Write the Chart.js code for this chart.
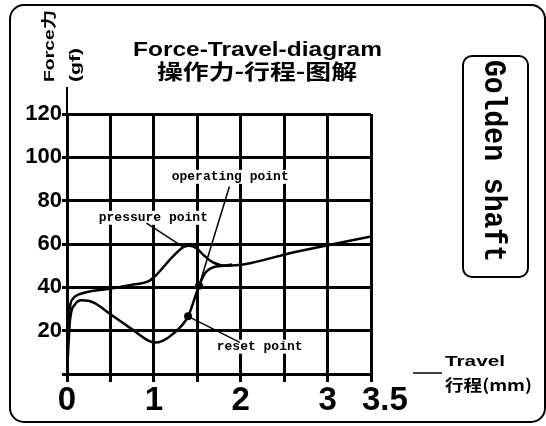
<!DOCTYPE html>
<html>
<head>
<meta charset="utf-8">
<script src="https://cdn.jsdelivr.net/npm/chart.js"></script>
<style>
  body { margin: 0; background: #fff; }
  canvas { display: block; }
</style>
</head>
<body>
<canvas id="myChart" width="546" height="426"></canvas>
<script>
// press stroke (upper curve), travel in mm / force in gf
const pressTravel = [0, 0.008, 0.035, 0.073, 0.13, 0.5, 0.75, 0.935, 1.01, 1.22, 1.34, 1.41, 1.49, 1.57, 1.68, 1.84, 2.68, 3.5];
const pressForce  = [0, 17, 31, 35, 36.6, 39.4, 41.2, 42.7, 45, 54.3, 58.6, 59.2, 58.1, 55, 51.5, 50, 56.8, 63.5];

// release stroke (lower curve)
const releaseTravel = [0, 0.035, 0.09, 0.17, 0.245, 0.32, 0.5, 0.75, 0.93, 1.01, 1.1, 1.22, 1.394, 1.52, 1.59, 1.66, 1.80, 1.9];
const releaseForce  = [0, 25, 32, 34, 33.8, 32.7, 27.6, 20.6, 15.5, 14.5, 15.3, 18.5, 26.6, 40.7, 46.6, 48.9, 50, 50.5];

// marked points: operating point, reset point
const dotTravel = [1.52, 1.394];
const dotForce  = [40.7, 26.6];

// call-outs
const noteLabels = ['pressure point', 'operating point', 'reset point'];
const noteTextX  = [0.994, 1.879, 2.218];
const noteTextY  = [72.1, 91, 12.6];
const noteFromX  = [0.915, 1.87, 1.99];
const noteFromY  = [69.6, 86.5, 14.6];
const noteToX    = [1.34, 1.52, 1.394];
const noteToY    = [58.6, 40.7, 26.6];

// axis labels
const xTickValues = [0, 1, 2, 3, 3.5];
const xTickLabels = ['0', '1', '2', '3', '3.5'];

const toPts = (xs, ys) => xs.map((x, i) => ({ x: x, y: ys[i] }));

function fitText(c, text, x, y, w, font, rot, baseline) {
  c.save();
  c.font = font;
  c.translate(x, y);
  if (rot) c.rotate(rot);
  const mw = c.measureText(text).width;
  c.scale(w / mw, 1);
  c.textAlign = 'center';
  c.textBaseline = baseline || 'middle';
  c.fillStyle = '#000';
  c.fillText(text, 0, 0);
  c.restore();
}

function roundRect(c, x, y, w, h, r) {
  c.beginPath();
  c.moveTo(x + r, y);
  c.arcTo(x + w, y, x + w, y + h, r);
  c.arcTo(x + w, y + h, x, y + h, r);
  c.arcTo(x, y + h, x, y, r);
  c.arcTo(x, y, x + w, y, r);
  c.closePath();
}

const decor = {
  id: 'decor',
  afterDraw(chart) {
    const c = chart.ctx;
    const xs = chart.scales.x, ys = chart.scales.y;
    c.save();
    c.strokeStyle = '#000';
    c.fillStyle = '#000';

    // outer frame
    c.lineWidth = 2;
    roundRect(c, 10, 5, 535, 417, 14);
    c.stroke();

    // y axis runs on above the grid
    c.lineWidth = 2;
    c.beginPath();
    c.moveTo(xs.getPixelForValue(0), ys.top);
    c.lineTo(xs.getPixelForValue(0), ys.top - 27);
    c.stroke();

    // titles
    fitText(c, 'Force-Travel-diagram', 257.5, 56, 249, 'bold 20px "Liberation Sans"', 0, 'alphabetic');
    fitText(c, '操作力-行程-图解', 257, 71, 200, 'bold 21px "Noto Sans CJK SC"', 0, 'middle');

    // y axis title
    fitText(c, 'Force力', 50, 46, 72, 'bold 15px "Liberation Sans", "Noto Sans CJK SC"', -Math.PI / 2);
    fitText(c, '(gf)', 75.5, 65, 34, 'bold 15px "Liberation Sans"', -Math.PI / 2);

    // side box
    c.lineWidth = 2;
    roundRect(c, 463, 56, 65, 221, 9);
    c.stroke();
    fitText(c, 'Golden shaft', 493, 161, 202, 'bold 32px "Liberation Mono"', Math.PI / 2);

    // x axis title
    c.lineWidth = 1.5;
    c.beginPath();
    c.moveTo(413, 373);
    c.lineTo(442, 373);
    c.stroke();
    fitText(c, 'Travel', 475, 366, 60, 'bold 15px "Liberation Sans"', 0, 'alphabetic');
    fitText(c, '行程(mm)', 488.5, 384.5, 87, 'bold 16px "Noto Sans CJK SC", "Liberation Sans"', 0, 'middle');

    // x tick labels
    c.font = 'bold 33px "Liberation Sans"';
    c.textBaseline = 'alphabetic';
    xTickValues.forEach((v, i) => {
      const px = xs.getPixelForValue(v);
      if (i === xTickValues.length - 1) {
        c.textAlign = 'left';
        c.fillText(xTickLabels[i], px - 9, 410);
      } else {
        c.textAlign = 'center';
        c.fillText(xTickLabels[i], px, 410);
      }
    });

    // call-outs
    c.font = 'bold 13px "Liberation Mono"';
    c.textAlign = 'center';
    c.textBaseline = 'middle';
    noteLabels.forEach((t, i) => {
      const tx = xs.getPixelForValue(noteTextX[i]);
      const ty = ys.getPixelForValue(noteTextY[i]);
      const w = c.measureText(t).width;
      c.fillStyle = '#fff';
      c.fillRect(tx - w / 2 - 1, ty - 7, w + 2, 14);
      c.fillStyle = '#000';
      c.fillText(t, tx, ty);
      c.lineWidth = 1.5;
      c.beginPath();
      c.moveTo(xs.getPixelForValue(noteFromX[i]), ys.getPixelForValue(noteFromY[i]));
      c.lineTo(xs.getPixelForValue(noteToX[i]), ys.getPixelForValue(noteToY[i]));
      c.stroke();
    });
    c.restore();
  }
};

const ctx = document.getElementById('myChart').getContext('2d');
new Chart(ctx, {
  type: 'scatter',
  data: {
    datasets: [
      {
        data: toPts(pressTravel, pressForce),
        showLine: true,
        borderColor: '#000',
        borderWidth: 2.5,
        pointRadius: 0,
        tension: 0.4,
        cubicInterpolationMode: 'monotone'
      },
      {
        data: toPts(releaseTravel, releaseForce),
        showLine: true,
        borderColor: '#000',
        borderWidth: 2.5,
        pointRadius: 0,
        tension: 0.4,
        cubicInterpolationMode: 'monotone'
      },
      {
        data: toPts(dotTravel, dotForce),
        showLine: false,
        pointRadius: 4,
        backgroundColor: '#000',
        borderWidth: 0
      }
    ]
  },
  options: {
    responsive: false,
    animation: false,
    devicePixelRatio: 1,
    layout: { padding: { top: 114, right: 175, left: 0, bottom: 0 } },
    plugins: { legend: { display: false }, tooltip: { enabled: false } },
    scales: {
      x: {
        type: 'linear',
        min: 0,
        max: 3.5,
        ticks: { stepSize: 0.5, display: false },
        grid: { color: '#000', lineWidth: 3, tickLength: 8 },
        border: { color: '#000', width: 3 },
        afterFit: s => { s.height = 52; }
      },
      y: {
        min: 0,
        max: 120,
        ticks: {
          stepSize: 20,
          color: '#000',
          padding: 0,
          font: { family: 'Liberation Sans', weight: 'bold', size: 22 },
          callback: v => (v === 0 ? '' : v)
        },
        grid: { color: '#000', lineWidth: 3, tickLength: 5 },
        border: { color: '#000', width: 3 },
        afterFit: s => { s.width = 67; }
      }
    }
  },
  plugins: [decor]
});
</script>
</body>
</html>
